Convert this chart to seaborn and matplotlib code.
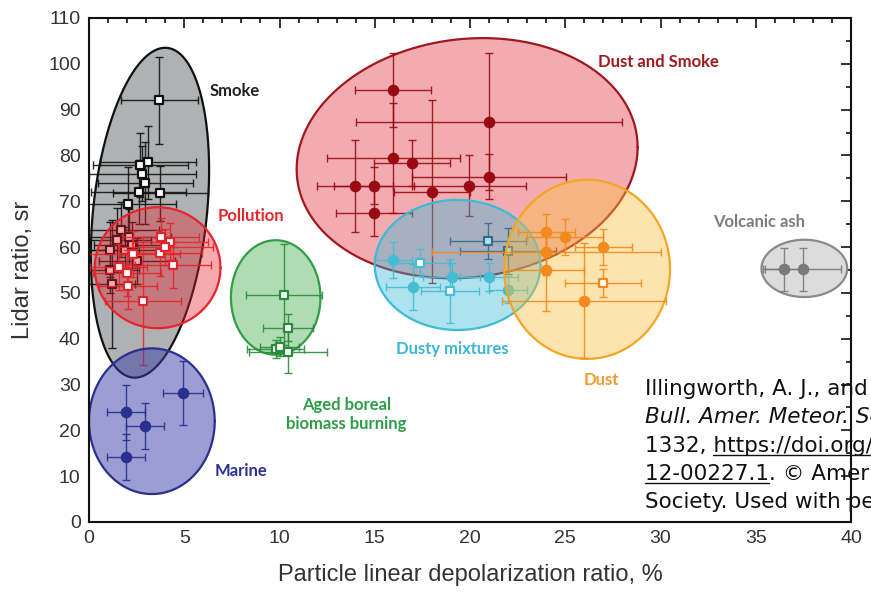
import numpy as np
import matplotlib.pyplot as plt
import seaborn as sns
from matplotlib.ticker import MultipleLocator
from matplotlib.lines import Line2D

sns.set_theme(style='white')
plt.rcParams['font.family'] = ['Liberation Sans', 'DejaVu Sans']

# ---- aerosol classes: depolarization (%), lidar ratio (sr), errors ----
smoke_x = [3.7, 3.1, 2.7, 2.8, 2.95, 2.6, 3.75, 2.05, 1.7, 2.1, 1.45, 1.1, 1.9, 2.25, 1.1, 2.5, 1.2]
smoke_y = [92, 78.5, 78, 76, 74, 72, 71.8, 69.4, 63.8, 62.3, 61.6, 59.4, 59.4, 60.5, 55, 57, 52]
smoke_xerr = [2.0, 2.5, 2.5, 2.8, 2.5, 2.5, 2.5, 2.5, 2.0, 2.2, 1.8, 1.5, 2.0, 2.0, 1.5, 2.0, 1.2]
smoke_yerr = [9.5, 8, 7, 6, 9, 7, 6, 8, 6, 6, 7, 6, 5, 5, 5, 5, 14]

pollution_x = [3.8, 4.25, 3.75, 4.4, 1.55, 2.0, 2.05, 2.85, 2.3, 4.0]
pollution_y = [62.3, 61.2, 58.7, 56.1, 55.7, 54.3, 51.4, 48.3, 58.5, 60.0]
pollution_xerr = [2.0, 2.0, 2.2, 2.0, 1.5, 1.8, 1.5, 2.0, 2.5, 2.5]
pollution_yerr = [4, 4, 5, 5, 5, 5, 5, 14, 5, 4]

aged_x = [10.25, 10.45, 9.8, 10.0, 10.45]
aged_y = [49.6, 42.4, 37.8, 38.3, 37.1]
aged_xerr = [2.0, 1.3, 1.5, 1.0, 2.05]
aged_yerr = [11, 3, 2, 2, 4.5]

marine_x = [1.94, 2.94, 4.93, 1.94]
marine_y = [24.0, 21.0, 28.2, 14.2]
marine_xerr = [1.0, 1.0, 1.05, 1.0]
marine_yerr = [6, 5, 7, 5]

dustsmoke_x = [13.96, 14.98, 14.98, 15.97, 15.97, 16.97, 18.0, 19.96, 21.0, 21.0]
dustsmoke_y = [73.4, 73.4, 67.4, 94.3, 79.4, 78.3, 72.1, 73.4, 87.4, 75.4]
dustsmoke_xerr = [2.0, 2.1, 2.0, 2.0, 3.5, 2.0, 2.0, 3.0, 7.0, 4.05]
dustsmoke_yerr = [10, 4, 5, 8, 12, 5, 20, 6.7, 15, 5]

dusty_x = [15.96, 17.0, 19.05, 21.0, 22.0]
dusty_y = [57.2, 51.3, 53.5, 53.5, 50.7]
dusty_xerr = [1.0, 1.4, 1.5, 1.5, 1.0]
dusty_yerr = [4, 5, 3, 3, 3]
dusty_sq_x = [17.4, 18.95]
dusty_sq_y = [56.6, 50.5]
dusty_sq_xerr = [1.5, 1.5]
dusty_sq_yerr = [3, 7]
dusty_dark_x = [20.95, 22.0]
dusty_dark_y = [61.3, 59.2]
dusty_dark_xerr = [2.0, 2.5]
dusty_dark_yerr = [4, 5]

dust_x = [24.0, 25.0, 24.0, 24.0, 27.0, 26.0]
dust_y = [63.3, 62.2, 59.0, 55.0, 60.0, 48.3]
dust_xerr = [1.5, 2.0, 6.0, 2.0, 1.5, 4.3]
dust_yerr = [4, 4, 5, 9, 4, 12.5]
dust_sq_x = [27.0]
dust_sq_y = [52.2]
dust_sq_xerr = [2.0]
dust_sq_yerr = [3]

volcanic_x = [36.5, 37.5]
volcanic_y = [55.2, 55.2]
volcanic_xerr = [1.1, 2.0]
volcanic_yerr = [4.7, 4.7]

# class envelopes: centre and two conjugate semi-axis vectors (data units)
env_cx = [3.2, 3.6, 3.3, 9.8, 19.85, 19.35, 26.15, 37.55]
env_cy = [67.5, 55.5, 22.0, 49.0, 79.4, 56.1, 55.15, 55.35]
env_ax = [3.0, 3.3, 3.3, 2.35, 8.95, 4.35, 4.35, 2.25]
env_ay = [0, 0, 0, 0, 2.4, 0, 0, 0]
env_bx = [0.8, 0, 0, 0, 0, 0, 0, 0]
env_by = [36, 13.2, 15.9, 12.5, 26.1, 14.2, 19.55, 6.25]

class_labels = ['Smoke', 'Pollution', 'Marine', 'Aged boreal\nbiomass burning',
                'Dust and Smoke', 'Dusty mixtures', 'Dust', 'Volcanic ash']
label_x = [7.65, 8.5, 8.0, 13.5, 29.9, 19.05, 26.9, 35.2]
label_y = [94.0, 66.8, 11.1, 23.4, 100.4, 37.8, 31.0, 65.5]

x_ticks = [0, 5, 10, 15, 20, 25, 30, 35, 40]
y_ticks = [0, 10, 20, 30, 40, 50, 60, 70, 80, 90, 100, 110]

cite_lines = ['Illingworth, A. J., and Coauthors, 2015: The EarthCARE satellite',
              'Bull. Amer. Meteor. Soc., 96, 1311\u2013',
              '1332, https://doi.org/10.1175/BAMS-D-',
              '12-00227.1. \u00a9 American Meteorological',
              'Society. Used with permission.']

# ---- styles per envelope ----
env_fill = ['#7f8184', '#e8202a', '#3b3fa8', '#3aa845', '#e0303c', '#38b8d8', '#fbc040', '#a8a8a8']
env_alpha = [0.62, 0.38, 0.5, 0.4, 0.4, 0.4, 0.42, 0.4]
env_edge = ['#111111', '#e8232b', '#2b2f8f', '#2f9e45', '#a0181e', '#3bbcd6', '#f4a623', '#8a8a8a']
label_color = ['#222222', '#e5282d', '#2e3192', '#2e9e4a', '#9b1b1e', '#3cb6d6', '#f29a2e', '#7d7d7d']

fig, ax = plt.subplots(figsize=(8.71, 6.03), dpi=100)
fig.subplots_adjust(left=89 / 871, right=851 / 871, bottom=1 - 522 / 603, top=1 - 18 / 603)

t = np.linspace(0, 2 * np.pi, 300)


def envelope(i, z):
    ex = env_cx[i] + env_ax[i] * np.cos(t) + env_bx[i] * np.sin(t)
    ey = env_cy[i] + env_ay[i] * np.cos(t) + env_by[i] * np.sin(t)
    ax.fill(ex, ey, facecolor=env_fill[i], alpha=env_alpha[i], edgecolor='none', zorder=z)
    ax.plot(ex, ey, color=env_edge[i], lw=1.6, zorder=z + 0.1)


def points(x, y, xe, ye, color, z, square=False):
    ax.errorbar(x, y, xerr=xe, yerr=ye, fmt='none', ecolor=color,
                elinewidth=1.0, capsize=3, capthick=1.0, zorder=z, alpha=0.9)
    if square:
        sns.scatterplot(x=x, y=y, ax=ax, marker='s', s=40, color='white',
                        edgecolor=color, linewidth=1.6, zorder=z + 0.2)
    else:
        sns.scatterplot(x=x, y=y, ax=ax, marker='o', s=70, color=color,
                        edgecolor=color, linewidth=0, zorder=z + 0.2)


envelope(0, 1)
points(smoke_x, smoke_y, smoke_xerr, smoke_yerr, '#111111', 2, square=True)
envelope(1, 3)
points(pollution_x, pollution_y, pollution_xerr, pollution_yerr, '#e2252b', 4, square=True)
envelope(2, 5)
points(marine_x, marine_y, marine_xerr, marine_yerr, '#2b2f8f', 6)
envelope(3, 5)
points(aged_x, aged_y, aged_xerr, aged_yerr, '#2a8c3a', 6, square=True)
envelope(4, 7)
points(dustsmoke_x, dustsmoke_y, dustsmoke_xerr, dustsmoke_yerr, '#9a0a12', 8)
points(dusty_dark_x, dusty_dark_y, dusty_dark_xerr, dusty_dark_yerr, '#3a3a55', 8, square=True)
envelope(5, 9)
points(dusty_x, dusty_y, dusty_xerr, dusty_yerr, '#45bdd2', 10)
points(dusty_sq_x, dusty_sq_y, dusty_sq_xerr, dusty_sq_yerr, '#45bdd2', 10, square=True)
envelope(6, 11)
points(dust_x, dust_y, dust_xerr, dust_yerr, '#f28a1e', 12)
points(dust_sq_x, dust_sq_y, dust_sq_xerr, dust_sq_yerr, '#f28a1e', 12, square=True)
envelope(7, 11)
points(volcanic_x, volcanic_y, volcanic_xerr, volcanic_yerr, '#7a7a7a', 12)

for lab, lx, ly, lc in zip(class_labels, label_x, label_y, label_color):
    ax.text(lx, ly, lab, color=lc, fontsize=12, fontweight='bold', family='Lato',
            ha='center', va='center', linespacing=1.25, zorder=20)

ax.set_xlim(0, 40)
ax.set_ylim(0, 110)
ax.set_xticks(x_ticks)
ax.set_yticks(y_ticks)
ax.xaxis.set_minor_locator(MultipleLocator(1))
ax.yaxis.set_minor_locator(MultipleLocator(5))
ax.tick_params(which='both', direction='in', top=True, right=True, color='#111111', width=1.2)
ax.tick_params(which='major', length=7, labelsize=14, labelcolor='#333333', pad=6)
ax.tick_params(which='minor', length=3.5)
for sp in ax.spines.values():
    sp.set_color('#111111')
    sp.set_linewidth(1.5)
    sp.set_zorder(30)
ax.set_xlabel('Particle linear depolarization ratio, %', fontsize=17, color='#333333', labelpad=12)
ax.set_ylabel('Lidar ratio, sr', fontsize=17, color='#333333', labelpad=10)

# citation overlay (runs off the right edge like the source)
W, H = 871, 603
renderer = fig.canvas.get_renderer()
x0 = 645 / W
for i, line in enumerate(cite_lines):
    yb = 1 - (395 + 28.3 * i) / H
    fig.text(x0, yb, line, fontsize=15.5, family='DejaVu Sans', color='#111111',
             style='italic' if i == 1 else 'normal', va='baseline', zorder=40)


def text_width(s):
    tt = fig.text(0, 0, s, fontsize=15.5, family='DejaVu Sans')
    w = tt.get_window_extent(renderer).width
    tt.remove()
    return w


# underlined link parts
y3 = (1 - (395 + 28.3 * 2) / H) * H - 3
start3 = x0 * W + text_width('1332, https') - text_width('https')
fig.add_artist(Line2D([start3 / W, 1.0], [y3 / H, y3 / H], color='#111111', lw=1.0))
y4 = (1 - (395 + 28.3 * 3) / H) * H - 3
end4 = x0 * W + text_width('12-00227.1')
fig.add_artist(Line2D([x0, end4 / W], [y4 / H, y4 / H], color='#111111', lw=1.0))

fig.savefig('out.png', dpi=100)
